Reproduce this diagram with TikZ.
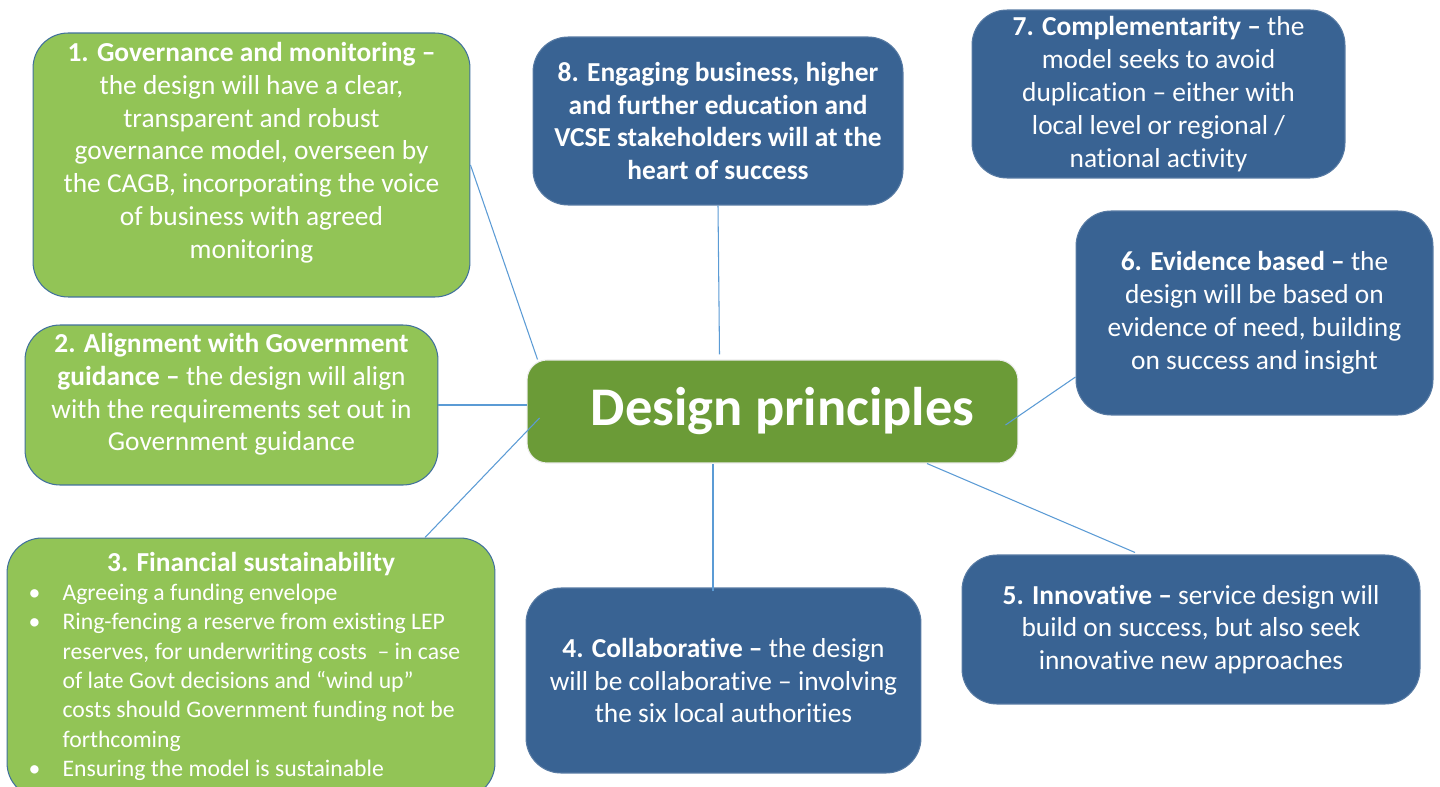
\documentclass[tikz,border=0pt]{standalone}
\usepackage{fontspec}
\setmainfont{Carlito}[Ligatures=CommonOff]
\usepackage{tikz}
\usetikzlibrary{calc}
\definecolor{lgreen}{RGB}{146,196,86}
\definecolor{dgreen}{RGB}{107,155,55}
\definecolor{dblue}{RGB}{57,99,147}
\definecolor{edgeblue}{RGB}{65,113,156}
\definecolor{linkblue}{RGB}{91,155,213}
\newcommand{\bul}{\makebox[0.8cm][l]{\hspace{0.12cm}\textbullet}}
\newcommand{\ind}{\hspace*{0.8cm}}

\begin{document}
\begin{tikzpicture}[x=0.02cm,y=-0.02cm,%design principles map
 pbox/.style={rounded corners=0.7cm, text=white, align=center, inner sep=0pt, line width=0.6pt, font=\fontsize{15.6}{18.7}\selectfont},
 gbox/.style={pbox, fill=lgreen, draw=edgeblue},
 bbox/.style={pbox, fill=dblue, draw=dblue!85!white},
 link/.style={draw=linkblue, line width=0.6pt}]
\clip (0,0) rectangle (1440,787);
\fill[white] (0,0) rectangle (1440,787);
% green boxes
\node[gbox, minimum width=8.74cm, minimum height=5.28cm] (g1) at (251.5,165) {\textbf{1. Governance and monitoring –}\\ the design will have a clear,\\ transparent and robust\\ governance model, overseen by\\ the CAGB, incorporating the voice\\ of business with agreed\\ monitoring\\[-2pt] \mbox{}};
\node[gbox, minimum width=8.26cm, minimum height=3.2cm] (g2) at (231.5,405) {\textbf{2. Alignment with Government}\\ \textbf{guidance –} the design will align\\ with the requirements set out in\\ Government guidance\\[-4pt] \mbox{}};
\node[gbox, minimum width=9.76cm, minimum height=5.2cm, font=\fontsize{13.5}{16.7}\selectfont] (g3) at (251,668) {\begin{tabular}{@{}l@{}}
\makebox[9.14cm][c]{\fontsize{15.6}{18.7}\selectfont\bfseries 3. Financial sustainability}\\
\bul Agreeing a funding envelope\\
\bul Ring-fencing a reserve from existing LEP\\
\ind reserves, for underwriting costs\ \ – in case\\
\ind of late Govt decisions and “wind up”\\
\ind costs should Government funding not be\\
\ind forthcoming\\
\bul Ensuring the model is sustainable
\end{tabular}};
% centre
\node[pbox, fill=dgreen, draw=white!85!gray, rounded corners=0.4cm, minimum width=9.82cm, minimum height=2.06cm, font=\fontsize{31}{36}\selectfont\bfseries] (c) at (772.5,411.5) {\hspace*{0.4cm}Design principles};
% blue boxes
\node[bbox, minimum width=7.4cm, minimum height=3.36cm] (b8) at (718,121) {\bfseries 8. Engaging business, higher\\ \bfseries and further education and\\ \bfseries VCSE stakeholders will at the\\ \bfseries heart of success};
\node[bbox, minimum width=7.46cm, minimum height=3.36cm] (b7) at (1158.5,94) {\textbf{7. Complementarity –} the\\ model seeks to avoid\\ duplication – either with\\ local level or regional /\\ national activity};
\node[bbox, minimum width=7.14cm, minimum height=4.08cm] (b6) at (1254.5,313) {\textbf{6. Evidence based –} the\\ design will be based on\\ evidence of need, building\\ on success and insight};
\node[bbox, minimum width=9.16cm, minimum height=2.98cm] (b5) at (1191,629.5) {\textbf{5. Innovative –} service design will\\ build on success, but also seek\\ innovative new approaches};
\node[bbox, minimum width=7.9cm, minimum height=3.7cm] (b4) at (723.5,680.5) {\textbf{4. Collaborative –} the design\\ will be collaborative – involving\\ the six local authorities};
% links
\draw[link] (g1.east) -- ($(c.north west)+(11,0)$);
\draw[link] (g2.east) -- (g2.east -| c.west);
\draw[link] ($(g3.north)+(174,0)$) -- ($(c.west)+(13,6.5)$);
\draw[link] (b8.south) -- ($(c.north)+(-53,-5)$);
\draw[link] ($(b6.west)+(0,64)$) -- ($(c.east)+(-13,13.5)$);
\draw[link] ($(b5.north)+(-56,-2)$) -- ($(c.south)+(154.5,0)$);
\draw[link] ($(b4.north)+(-10.5,4)$) -- ($(c.south)+(-59.5,0)$);
\end{tikzpicture}
\end{document}
